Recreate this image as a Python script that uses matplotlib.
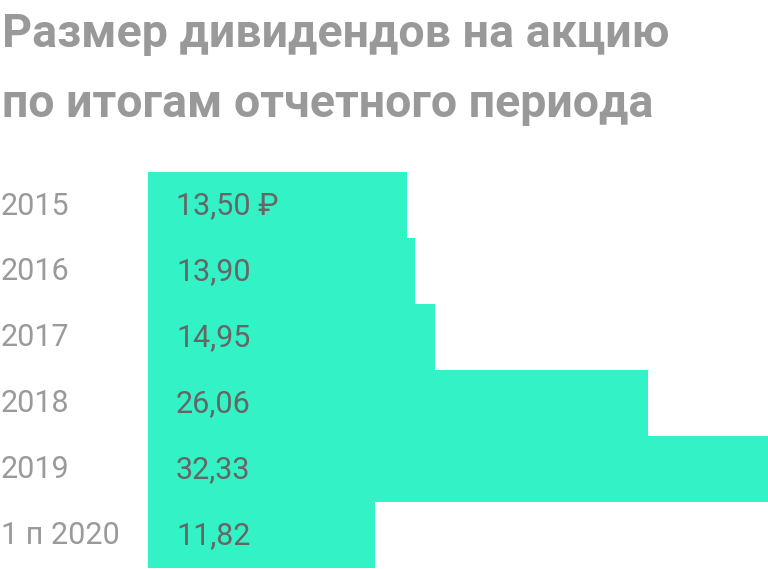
import matplotlib
matplotlib.use("Agg")
import matplotlib.pyplot as plt

# datos
anios = ["2015", "2016", "2017", "2018", "2019", "1 п 2020"]
valores = [13.50, 13.90, 14.95, 26.06, 32.33, 11.82]
etiquetas = ["13,50 ₽", "13,90", "14,95", "26,06", "32,33", "11,82"]

plt.rcParams["font.family"] = ["Roboto", "DejaVu Sans"]

W, H = 768, 569
fig = plt.figure(figsize=(W / 100, H / 100), dpi=100)
fig.patch.set_facecolor("white")

# eje de barras: x 148..768 px, y 172..568 px (desde arriba)
ax = fig.add_axes([148 / W, (H - 568) / H, (W - 148) / W, (568 - 172) / H])
pos = list(range(len(anios)))
ax.barh(pos, valores, height=1.0, color="#33F2C5", edgecolor="none")
ax.set_xlim(0, max(valores))
ax.set_ylim(len(anios) - 0.5, -0.5)
ax.set_axis_off()

for i, (anio, txt) in enumerate(zip(anios, etiquetas)):
    y_fig = (H - (172 + 66 * i + 34)) / H
    fig.text(1 / W, y_fig, anio, ha="left", va="center", fontsize=22,
             color="#9a9a9a")
    fig.text(176 / W, y_fig, txt, ha="left", va="center", fontsize=22,
             color="#666666")

fig.text(2 / W, (H - 47) / H, "Размер дивидендов на акцию", ha="left",
         va="baseline", fontsize=33.5, fontweight="bold", color="#999999")
fig.text(2 / W, (H - 117) / H, "по итогам отчетного периода", ha="left",
         va="baseline", fontsize=33.5, fontweight="bold", color="#999999")

fig.savefig("out.png", dpi=100)
